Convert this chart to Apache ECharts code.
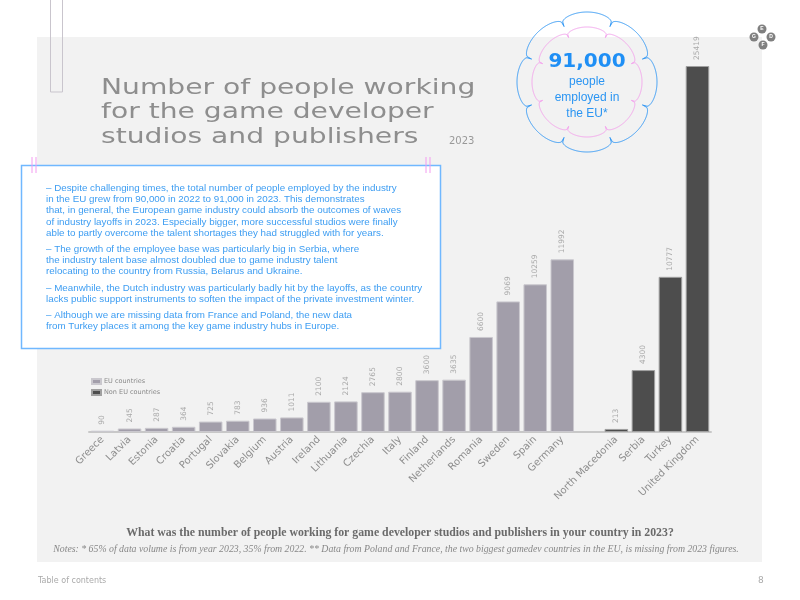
<!DOCTYPE html>
<html>
<head>
<meta charset="utf-8">
<script src="https://cdn.jsdelivr.net/npm/echarts@6/dist/echarts.min.js"></script>
<style>
  html, body { margin: 0; padding: 0; background: #fff; }
  #chart { width: 800px; height: 600px; }
</style>
</head>
<body>
<div id="chart"></div>
<script>
// EU countries
const euCountries = ["Greece", "Latvia", "Estonia", "Croatia", "Portugal", "Slovakia", "Belgium", "Austria",
  "Ireland", "Lithuania", "Czechia", "Italy", "Finland", "Netherlands", "Romania", "Sweden", "Spain", "Germany"];
const euValues = [90, 245, 287, 364, 725, 783, 936, 1011, 2100, 2124, 2765, 2800, 3600, 3635, 6600, 9069, 10259, 11992];

// non EU countries
const nonEuCountries = ["North Macedonia", "Serbia", "Turkey", "United Kingdom"];
const nonEuValues = [213, 4300, 10777, 25419];

const titleLines = ["Number of people working", "for the game developer", "studios and publishers"];
const paragraphs = [
  "– Despite challenging times, the total number of people employed by the industry\nin the EU grew from 90,000 in 2022 to 91,000 in 2023. This demonstrates\nthat, in general, the European game industry could absorb the outcomes of waves\nof industry layoffs in 2023. Especially bigger, more successful studios were finally\nable to partly overcome the talent shortages they had struggled with for years.",
  "– The growth of the employee base was particularly big in Serbia, where\nthe industry talent base almost doubled due to game industry talent\nrelocating to the country from Russia, Belarus and Ukraine.",
  "– Meanwhile, the Dutch industry was particularly badly hit by the layoffs, as the country\nlacks public support instruments to soften the impact of the private investment winter.",
  "– Although we are missing data from France and Poland, the new data\nfrom Turkey places it among the key game industry hubs in Europe."
];

const categories = euCountries.concat([""], nonEuCountries);
const euSeries = euValues.concat(["-"], nonEuCountries.map(() => "-"));
const nonEuSeries = euCountries.map(() => "-").concat(["-"], nonEuValues);

// flower shaped badge outline
const flower = (cx, cy, rIn, amp, lobes, p) => {
  const pts = [];
  for (let i = 0; i < 720; i++) {
    const t = i / 720 * Math.PI * 2;
    const r = rIn + amp * Math.pow(Math.abs(Math.cos(lobes / 2 * t)), p);
    pts.push([cx + r * Math.sin(t), cy - r * Math.cos(t)]);
  }
  return pts;
};

const chart = echarts.init(document.getElementById("chart"));

const textStyle = (extra) => Object.assign({ fill: "#888", fontFamily: "DejaVu Sans" }, extra);

const graphics = [
  { type: "rect", z: -10, shape: { x: 37, y: 37, width: 725, height: 525 }, style: { fill: "#f2f2f2" } },
  { type: "rect", z: 1, shape: { x: 50.5, y: -2, width: 12, height: 94 }, style: { fill: "none", stroke: "#c9c5cd", lineWidth: 1 } },
  // title
  ...titleLines.map((t, i) => ({
    type: "text", z: 5, x: 101, y: 88 + i * 24.5, scaleX: 1.28,
    style: textStyle({ text: t, fontSize: 22, fill: "#8e8e8e", textAlign: "left", textVerticalAlign: "middle", align: "left", verticalAlign: "middle" })
  })),
  { type: "text", z: 5, x: 449, y: 141, style: textStyle({ text: "2023", fontSize: 10, fill: "#999", textVerticalAlign: "middle", verticalAlign: "middle" }) },
  // text box
  { type: "rect", z: 5, shape: { x: 21.5, y: 165.5, width: 419, height: 183 }, style: { fill: "#fff", stroke: "#70b8ff", lineWidth: 1.5 } },
  ...[32, 36, 426, 430].map(x => ({ type: "line", z: 6, shape: { x1: x, y1: 157, x2: x, y2: 173 }, style: { stroke: "#f39cf0", lineWidth: 1 } })),
  ...paragraphs.map((p, i) => ({
    type: "text", z: 7, x: 46, y: [182.5, 243.5, 282.5, 309.5][i],
    style: { text: p, fill: "#3d9df2", fontFamily: "Liberation Sans", fontSize: 9.8, lineHeight: 11.3, textAlign: "left", align: "left" }
  })),
  // badge
  { type: "polygon", z: 5, shape: { points: flower(587, 82, 60, 10, 8, 0.22) }, style: { fill: "none", stroke: "#3a9cf5", lineWidth: 1 } },
  { type: "polygon", z: 5, shape: { points: flower(587, 82, 48, 7, 8, 0.22) }, style: { fill: "none", stroke: "#f4a6ee", lineWidth: 1 } },
  { type: "text", z: 6, x: 587, y: 62, style: { text: "91,000", fill: "#1f8ff5", fontFamily: "DejaVu Sans", fontWeight: "bold", fontSize: 20, textAlign: "center", textVerticalAlign: "middle", align: "center", verticalAlign: "middle" } },
  { type: "text", z: 6, x: 587, y: 98, style: { text: "people\nemployed in\nthe EU*", fill: "#2b95f2", fontFamily: "Liberation Sans", fontSize: 12, lineHeight: 16, textAlign: "center", textVerticalAlign: "middle", align: "center", verticalAlign: "middle" } },
  // logo
  ...[["E", 762, 29], ["G", 754, 37], ["D", 771, 37], ["F", 763, 45]].flatMap(([l, x, y]) => [
    { type: "circle", z: 5, shape: { cx: x, cy: y, r: 4.5 }, style: { fill: "#808080" } },
    { type: "text", z: 6, x: x, y: y, style: { text: l, fill: "#fff", fontSize: 5, fontWeight: "bold", fontFamily: "Liberation Sans", textAlign: "center", textVerticalAlign: "middle", align: "center", verticalAlign: "middle" } }
  ]),
  // bottom texts
  { type: "text", z: 5, x: 400, y: 533, style: { text: "What was the number of people working for game developer studios and publishers in your country in 2023?", fill: "#6a6a6a", fontFamily: "Liberation Serif", fontWeight: "bold", fontSize: 11.8, textAlign: "center", textVerticalAlign: "middle", align: "center", verticalAlign: "middle" } },
  { type: "text", z: 5, x: 396, y: 549, style: { text: "Notes: * 65% of data volume is from year 2023, 35% from 2022. ** Data from Poland and France, the two biggest gamedev countries in the EU, is missing from 2023 figures.", fill: "#888", fontFamily: "Liberation Serif", fontStyle: "italic", fontSize: 9.8, textAlign: "center", textVerticalAlign: "middle", align: "center", verticalAlign: "middle" } },
  { type: "text", z: 5, x: 38, y: 581, style: { text: "Table of contents", fill: "#aaa", fontFamily: "DejaVu Sans", fontSize: 8, textVerticalAlign: "middle", verticalAlign: "middle" } },
  { type: "text", z: 5, x: 758, y: 581, style: { text: "8", fill: "#aaa", fontFamily: "DejaVu Sans", fontSize: 9, textVerticalAlign: "middle", verticalAlign: "middle" } }
];

const barLabel = {
  show: true,
  position: "top",
  rotate: 90,
  align: "left",
  verticalAlign: "middle",
  distance: 6,
  color: "#aaa",
  fontSize: 7.5,
  fontFamily: "DejaVu Sans"
};

chart.setOption({
  backgroundColor: "#fff",
  animation: false,
  grid: { left: 89, right: 89, top: 66, bottom: 168, containLabel: false },
  legend: {
    orient: "vertical",
    left: 86,
    top: 373,
    itemWidth: 9,
    itemHeight: 5,
    itemGap: 4,
    icon: "rect",
    textStyle: { color: "#888", fontSize: 6.5, fontFamily: "DejaVu Sans", padding: [0, 0, 0, -2] },
    data: ["EU countries", "Non EU countries"]
  },
  xAxis: {
    type: "category",
    data: categories,
    axisLine: { show: true, lineStyle: { color: "#c8c8c8", width: 2 } },
    axisTick: { show: false },
    axisLabel: { interval: 0, rotate: 45, color: "#8e8e8e", fontSize: 10, fontFamily: "DejaVu Sans", margin: 6 }
  },
  yAxis: {
    type: "value",
    min: 0,
    max: "dataMax",
    show: false,
    splitLine: { show: false }
  },
  series: [
    {
      name: "EU countries",
      type: "bar",
      data: euSeries,
      barWidth: "87%",
      barGap: "-100%",
      itemStyle: { color: "#a29eaa", borderColor: "#cac8ce", borderWidth: 1 },
      label: barLabel
    },
    {
      name: "Non EU countries",
      type: "bar",
      data: nonEuSeries,
      barWidth: "87%",
      barGap: "-100%",
      itemStyle: { color: "#4d4d4d", borderColor: "#a0a0a0", borderWidth: 1 },
      label: barLabel
    }
  ],
  graphic: graphics
});
</script>
</body>
</html>
